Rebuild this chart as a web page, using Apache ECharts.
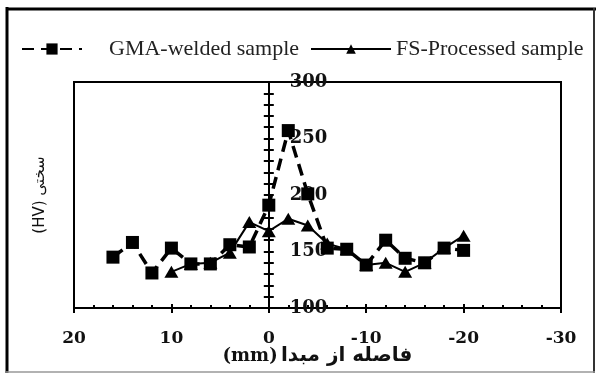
<!DOCTYPE html>
<html>
<head>
<meta charset="utf-8">
<script src="https://cdn.jsdelivr.net/npm/echarts@6/dist/echarts.min.js"></script>
<style>
html,body{margin:0;padding:0;background:#fff;}
#chart{width:596px;height:378px;}
</style>
</head>
<body>
<div id="chart"></div>
<script>
// Data
const gmaX = [16, 14, 12, 10, 8, 6, 4, 2, 0, -2, -4, -6, -8, -10, -12, -14, -16, -18, -20];
const gmaY = [145, 158, 131, 153, 139, 139, 156, 154, 191, 257, 201, 153, 152, 138, 160, 144, 140, 153, 151];
const fsX = [10, 8, 6, 4, 2, 0, -2, -4, -6, -8, -10, -12, -14, -16, -18, -20];
const fsY = [132, 139, 140, 149, 176, 168, 179, 173, 157, 152, 138, 140, 132, 140, 153, 164];
const seriesNames = ['GMA-welded sample', 'FS-Processed sample'];
const xUnit = '(mm)';
const xTitle = 'فاصله از مبدا';
const yName = '(HV) سختی';
const xMin = -30, xMax = 20, xStep = 10;
const yMin = 100, yMax = 300, yStep = 50;

const W = 596, gridL = 74, gridR = 35;
const gridW = W - gridL - gridR;
// y axis sits at x = 0 of the horizontal (inverted) axis
const yAxisOffset = -gridW * (xMax - 0) / (xMax - xMin);

const chart = echarts.init(document.getElementById('chart'), null, {renderer: 'canvas'});
const yTickFont = {fontFamily: 'DejaVu Serif', fontWeight: 'bold', fontSize: 18, color: '#111'};
const xTickFont = {fontFamily: 'DejaVu Serif', fontWeight: 'bold', fontSize: 17, color: '#111'};
const pair = (xs, ys) => xs.map((x, i) => [x, ys[i]]);

const option = {
  backgroundColor: '#fff',
  animation: false,
  grid: {left: gridL, right: gridR, top: 82, bottom: 70, show: true, borderColor: '#000', borderWidth: 2,
         backgroundColor: 'transparent', containLabel: false, outerBoundsMode: 'none'},
  legend: [
    {
      data: [seriesNames[0]], left: 16, top: 33, itemWidth: 60, itemHeight: 14,
      textStyle: {fontFamily: 'Liberation Serif', fontSize: 22, color: '#222', padding: [0, 0, 0, 22]}
    },
    {
      data: [seriesNames[1]], left: 305, top: 33, itemWidth: 80, itemHeight: 12,
      textStyle: {fontFamily: 'Liberation Serif', fontSize: 22, color: '#222', padding: [0, 0, 0, 0]}
    }
  ],
  xAxis: [
    {
      type: 'value', min: xMin, max: xMax, interval: xStep, inverse: true, position: 'bottom',
      axisLine: {onZero: false, lineStyle: {color: '#000', width: 2}},
      axisTick: {show: true, inside: false, length: 5, lineStyle: {color: '#000', width: 2}},
      minorTick: {show: false},
      splitLine: {show: false},
      axisLabel: Object.assign({margin: 22}, xTickFont),
      name: '{u|' + xUnit + '} {t|' + xTitle + '}', nameLocation: 'middle', nameGap: 38, nameMoveOverlap: false,
      nameTextStyle: {
        rich: {
          u: {fontFamily: 'DejaVu Serif', fontWeight: 'bold', fontSize: 18, color: '#111'},
          t: {fontFamily: 'DejaVu Sans', fontWeight: 'bold', fontSize: 20, color: '#111'}
        }
      }
    },
    {
      type: 'value', min: xMin, max: xMax, interval: xStep, inverse: true, position: 'bottom',
      axisLine: {show: false, onZero: false},
      axisTick: {show: true, inside: true, length: 4, lineStyle: {color: '#000', width: 2}},
      minorTick: {show: true, splitNumber: 5, length: 3, lineStyle: {color: '#000', width: 2}},
      splitLine: {show: false},
      axisLabel: {show: false}
    }
  ],
  yAxis: [
    {
      type: 'value', min: yMin, max: yMax, interval: yStep, position: 'left', offset: yAxisOffset,
      axisLine: {show: true, onZero: false, lineStyle: {color: '#000', width: 2}},
      axisTick: {show: true, inside: false, length: 5, lineStyle: {color: '#000', width: 2}},
      minorTick: {show: true, splitNumber: 5, length: 5, lineStyle: {color: '#000', width: 2}},
      splitLine: {show: false},
      axisLabel: Object.assign({inside: true, margin: 21}, yTickFont)
    },
    {
      type: 'value', min: yMin, max: yMax, interval: yStep, position: 'left', offset: yAxisOffset,
      axisLine: {show: false, onZero: false},
      axisTick: {show: true, inside: true, length: 5, lineStyle: {color: '#000', width: 2}},
      minorTick: {show: true, splitNumber: 5, length: 5, lineStyle: {color: '#000', width: 2}},
      splitLine: {show: false},
      axisLabel: {show: false}
    },
    {
      type: 'value', min: yMin, max: yMax, interval: yStep, position: 'left', offset: 0,
      axisLine: {show: false, onZero: false},
      axisTick: {show: false}, splitLine: {show: false}, axisLabel: {show: false},
      name: yName, nameLocation: 'middle', nameGap: 26, nameRotate: 90,
      nameTextStyle: {fontFamily: 'DejaVu Sans', fontWeight: 'normal', fontSize: 15, color: '#111'}
    }
  ],
  series: [
    {
      name: seriesNames[1], type: 'line', data: pair(fsX, fsY),
      symbol: 'triangle', symbolSize: [14, 12],
      itemStyle: {color: '#000'},
      lineStyle: {color: '#000', width: 2, type: 'solid'},
      z: 3
    },
    {
      name: seriesNames[0], type: 'line', data: pair(gmaX, gmaY),
      symbol: 'rect', symbolSize: 13,
      itemStyle: {color: '#000'},
      lineStyle: {color: '#000', width: 3.5, type: [12, 7]},
      z: 4
    }
  ],
  graphic: [
    {type: 'line', shape: {x1: 7, y1: 7, x2: 7, y2: 373}, style: {stroke: '#000', lineWidth: 3}, z: 100},
    {type: 'line', shape: {x1: 6, y1: 9, x2: 596, y2: 9}, style: {stroke: '#000', lineWidth: 3}, z: 100},
    {type: 'line', shape: {x1: 594, y1: 8, x2: 594, y2: 373}, style: {stroke: '#333', lineWidth: 2}, z: 100},
    {type: 'line', shape: {x1: 6, y1: 372, x2: 595, y2: 372}, style: {stroke: '#999', lineWidth: 1.5}, z: 100}
  ]
};
chart.setOption(option);
</script>
</body>
</html>
